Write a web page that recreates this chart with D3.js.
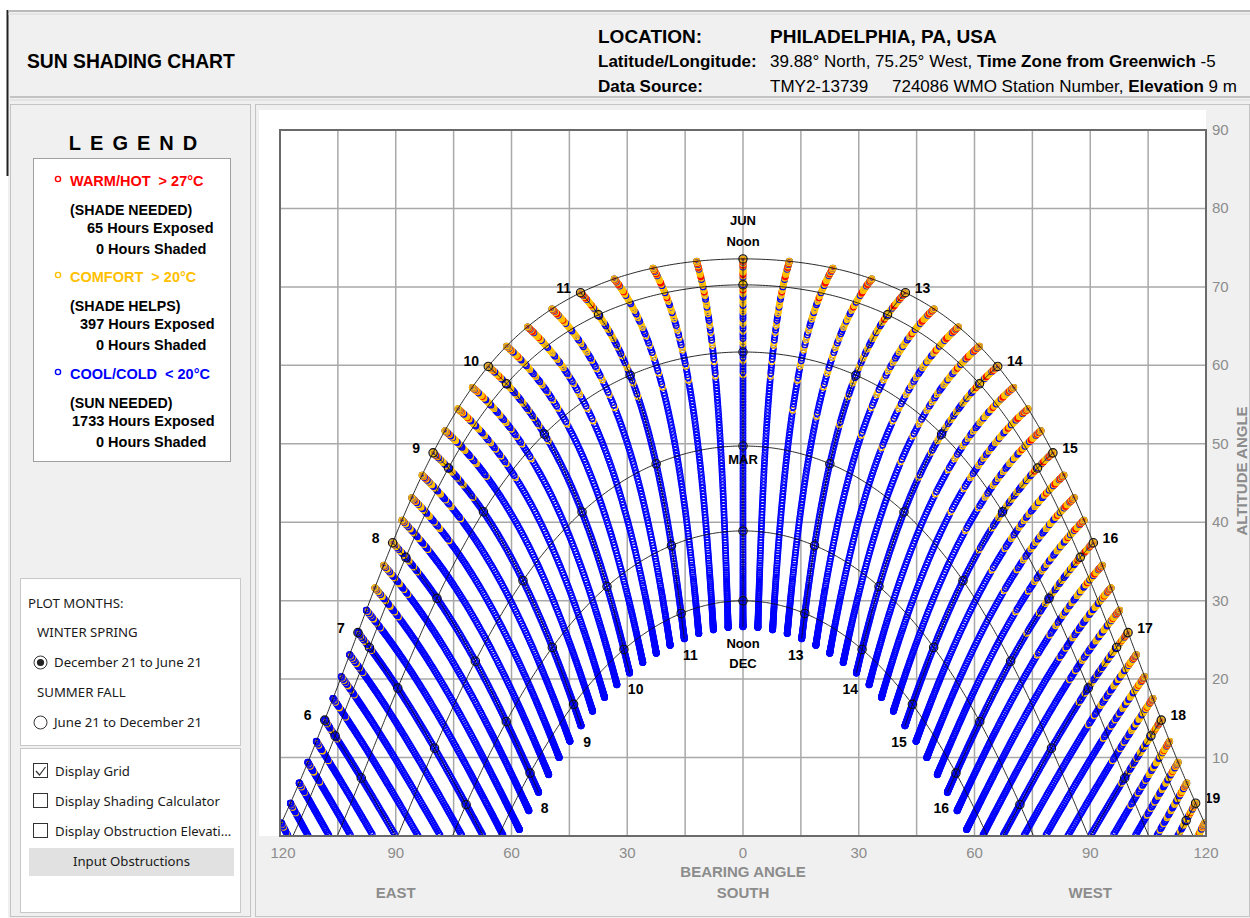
<!DOCTYPE html>
<html>
<head>
<meta charset="utf-8">
<script src="https://cdn.jsdelivr.net/npm/d3@7"></script>
<style>
  html, body { margin: 0; padding: 0; background: #ffffff; }
  svg { display: block; }
  text { white-space: pre; }
</style>
</head>
<body>
<svg id="chart" width="1250" height="918"></svg>
<script>
// ---------------- Site and chart data ----------------
const LATITUDE = 39.88;                       // degrees north
const xTicks = [-120, -90, -60, -30, 0, 30, 60, 90, 120];   // bearing (east negative)
const yTicks = [10, 20, 30, 40, 50, 60, 70, 80, 90];        // altitude
const xGridStep = 15;
const yGridStep = 10;

// month arcs, drawn on the 21st (day of year)
const arcMonths = ["JAN", "FEB", "MAR", "APR", "MAY", "JUN"];
const arcDayOfYear = [21, 52, 80, 111, 141, 172];
const DEC_SOLSTICE_DAY = 355;
const JUN_SOLSTICE_DAY = 172;

// hour lines and their labels
const hourLines = [6, 7, 8, 9, 10, 11, 12, 13, 14, 15, 16, 17, 18, 19];
const junLabelHours = [6, 7, 8, 9, 10, 11, 13, 14, 15, 16, 17, 18, 19];
const decLabelHours = [8, 9, 10, 11, 13, 14, 15, 16];

// plotted time slots (solar time, every quarter hour)
const firstSlot = 4.75, lastSlot = 19.25, slotStep = 0.25;

// daily high temperature, °C, December 21 through June 21
const highDec = [7, 5, 3, 4, 8, 9, 6, 2, 1, 4, 7];
const highJan = [6, 3, 0, -2, 1, 4, 8, 10, 5, 2, 3, 6, 9, 7, 2, -1, -3, 0, 3, 5, 4, 8, 11, 6, 3, 1, 4, 7, 5, 2, 6];
const highFeb = [8, 10, 4, 1, 3, 7, 9, 12, 6, 2, 5, 8, 11, 13, 9, 4, 3, 7, 10, 14, 11, 6, 8, 12, 15, 10, 7, 9];
const highMar = [11, 13, 8, 6, 10, 14, 16, 12, 9, 7, 12, 15, 17, 11, 8, 13, 16, 18, 14, 10, 12, 15, 19, 16, 11, 13, 17, 14, 12, 16, 18];
const highApr = [15, 13, 21, 17, 12, 14, 18, 20, 16, 13, 17, 19, 22, 18, 15, 14, 19, 23, 21, 16, 18, 20, 17, 22, 24, 19, 16, 21, 25, 20];
const highMay = [17, 21, 23, 19, 16, 20, 24, 26, 22, 18, 21, 25, 23, 20, 17, 22, 26, 28, 24, 21, 19, 23, 27, 25, 22, 20, 24, 28, 30, 26, 23];
const highJun = [24, 27, 22, 19, 25, 29, 31, 26, 23, 20, 26, 29, 32, 27, 24, 21, 26, 29, 27, 19, 26];
const dailyHigh = [].concat(highDec, highJan, highFeb, highMar, highApr, highMay, highJun);

// typical daily temperature swing, °C  (Dec, Jan, Feb, Mar, Apr, May, Jun)
const monthlyRange = [7, 8, 9, 10, 11, 9, 9];
// share of the daily swing reached at each clock hour, 5 h .. 19 h
const shapeStartHour = 5;
const diurnalShape = [0.04, 0.12, 0.3, 0.47, 0.61, 0.73, 0.83, 0.9, 0.95, 0.99, 1.0, 0.96, 0.88, 0.78, 0.67];

// comfort bands
const WARM_LIMIT = 27, COMFORT_LIMIT = 20;
const bandColor = { warm: "#ff0000", comfort: "#ffc000", cool: "#0000ff" };

// legend figures
const legendRows = [
  { key: "warm",    title: "WARM/HOT  > 27°C",   note: "(SHADE NEEDED)", exposed: 65 },
  { key: "comfort", title: "COMFORT  > 20°C",    note: "(SHADE HELPS)",  exposed: 397 },
  { key: "cool",    title: "COOL/COLD  < 20°C",  note: "(SUN NEEDED)",   exposed: 1733 }
];

// ---------------- Solar geometry ----------------
const RAD = Math.PI / 180;
const phi = LATITUDE * RAD;
function declination(n) { return 23.45 * Math.sin(RAD * 360 / 365 * (284 + n)); }
function sunPos(decl, hour) {
  const d = decl * RAD, H = (hour - 12) * 15 * RAD;
  const sinAlt = Math.sin(phi) * Math.sin(d) + Math.cos(phi) * Math.cos(d) * Math.cos(H);
  const alt = Math.asin(sinAlt) / RAD;
  const az = Math.atan2(Math.sin(H), Math.cos(H) * Math.sin(phi) - Math.tan(d) * Math.cos(phi)) / RAD;
  return { alt, az };
}
const dayOfYear = i => (DEC_SOLSTICE_DAY - 1 + i) % 365 + 1;

// ---------------- Layout ----------------
const svg = d3.select("#chart");
const FONT = "'Liberation Sans', Arial, sans-serif";
const UI_FONT = "'Noto Sans', 'DejaVu Sans', sans-serif";

function text(g, x, y, str, o = {}) {
  return g.append("text").attr("x", x).attr("y", y).text(str)
    .attr("font-family", o.family || FONT)
    .attr("font-size", o.size || 14)
    .attr("font-weight", o.weight || "normal")
    .attr("fill", o.fill || "#000")
    .attr("text-anchor", o.anchor || "start");
}
function hline(x1, x2, y, c, w = 1) {
  svg.append("line").attr("x1", x1).attr("x2", x2).attr("y1", y).attr("y2", y).attr("stroke", c).attr("stroke-width", w);
}
function vline(x, y1, y2, c, w = 1) {
  svg.append("line").attr("x1", x).attr("x2", x).attr("y1", y1).attr("y2", y2).attr("stroke", c).attr("stroke-width", w);
}

// window background
svg.append("rect").attr("x", 8).attr("y", 10).attr("width", 1242).attr("height", 908).attr("fill", "#f0f0f0");
vline(7.5, 10, 176, "#202020", 2);

// header frame
hline(8, 1250, 11, "#a8a8a8", 1.5);
hline(8, 1250, 14, "#d8d8d8", 1);
hline(10, 1250, 97, "#b4b4b4", 1.5);
hline(10, 1250, 100, "#d8d8d8", 1);

text(svg, 27, 68, "SUN SHADING CHART", { size: 19.3, weight: "bold" });

text(svg, 598, 43, "LOCATION:", { size: 19, weight: "bold" });
text(svg, 770, 43, "PHILADELPHIA, PA, USA", { size: 19, weight: "bold" });
text(svg, 598, 67, "Latitude/Longitude:", { size: 17, weight: "bold" });
{
  const t = text(svg, 770, 67, "", { size: 17 });
  t.append("tspan").text("39.88° North, 75.25° West, ");
  t.append("tspan").attr("font-weight", "bold").text("Time Zone from Greenwich");
  t.append("tspan").text(" -5");
}
text(svg, 598, 92, "Data Source:", { size: 17, weight: "bold" });
text(svg, 770, 92, "TMY2-13739", { size: 17 });
{
  const t = text(svg, 892, 92, "", { size: 17 });
  t.append("tspan").text("724086 WMO Station Number, ");
  t.append("tspan").attr("font-weight", "bold").text("Elevation");
  t.append("tspan").text(" 9 m");
}

// side panel frame
svg.append("rect").attr("x", 10.5).attr("y", 104.5).attr("width", 240).attr("height", 812)
  .attr("fill", "#f0f0f0").attr("stroke", "#c4c4c4");
// main panel frame
svg.append("rect").attr("x", 255.5).attr("y", 104.5).attr("width", 994).attr("height", 812)
  .attr("fill", "#f0f0f0").attr("stroke", "#c4c4c4");

// ---------------- Legend ----------------
text(svg, 133, 150, "LEGEND", { size: 20, weight: "bold", anchor: "middle" }).attr("letter-spacing", 9).attr("dx", 4.5);
svg.append("rect").attr("x", 33.5).attr("y", 158.5).attr("width", 197).attr("height", 303)
  .attr("fill", "#ffffff").attr("stroke", "#a0a0a0");

const legendTop = [186, 282, 379];
const exposedX = { 65: 87, 397: 80, 1733: 72 };
legendRows.forEach((r, i) => {
  const y0 = legendTop[i];
  svg.append("circle").attr("cx", 58).attr("cy", y0 - 7).attr("r", 2.6)
    .attr("fill", "none").attr("stroke", bandColor[r.key]).attr("stroke-width", 1.4);
  text(svg, 70, y0, r.title, { size: 14.5, weight: "bold", fill: bandColor[r.key] });
  text(svg, 70, y0 + 29, r.note, { size: 14.2, weight: "bold" });
  text(svg, exposedX[r.exposed], y0 + 47, r.exposed + " Hours Exposed", { size: 14.5, weight: "bold" });
  text(svg, 96, y0 + 68, "0 Hours Shaded", { size: 14.5, weight: "bold" });
});

// ---------------- Plot-month and display controls ----------------
svg.append("rect").attr("x", 20.5).attr("y", 578.5).attr("width", 220).attr("height", 167)
  .attr("fill", "#ffffff").attr("stroke", "#c8c8c8");
svg.append("rect").attr("x", 20.5).attr("y", 748.5).attr("width", 220).attr("height", 164)
  .attr("fill", "#ffffff").attr("stroke", "#c8c8c8");
const ui = { family: UI_FONT, size: 13.2, fill: "#1a1a1a" };
text(svg, 28, 608, "PLOT MONTHS:", ui);
text(svg, 37, 637, "WINTER SPRING", ui);
svg.append("circle").attr("cx", 40.5).attr("cy", 662.5).attr("r", 6.5).attr("fill", "#fff").attr("stroke", "#333");
svg.append("circle").attr("cx", 40.5).attr("cy", 662.5).attr("r", 3.6).attr("fill", "#222");
text(svg, 54, 667, "December 21 to June 21", ui);
text(svg, 37, 697, "SUMMER FALL", ui);
svg.append("circle").attr("cx", 40.5).attr("cy", 722.5).attr("r", 6.5).attr("fill", "#fff").attr("stroke", "#333");
text(svg, 54, 727, "June 21 to December 21", ui);

const checks = [
  { label: "Display Grid", on: true },
  { label: "Display Shading Calculator", on: false },
  { label: "Display Obstruction Elevati...", on: false }
];
checks.forEach((c, i) => {
  const cy = 771 + i * 30;
  svg.append("rect").attr("x", 33.5).attr("y", cy - 7.5).attr("width", 14).attr("height", 14)
    .attr("fill", "#fff").attr("stroke", "#333");
  if (c.on) {
    svg.append("path").attr("d", `M36,${cy} L39.5,${cy + 4} L45.5,${cy - 4}`)
      .attr("fill", "none").attr("stroke", "#333").attr("stroke-width", 1.2);
  }
  text(svg, 55, cy + 5, c.label, ui);
});
svg.append("rect").attr("x", 29).attr("y", 848).attr("width", 205).attr("height", 28).attr("fill", "#e1e1e1");
text(svg, 131.5, 866, "Input Obstructions", Object.assign({}, ui, { anchor: "middle" }));

// ---------------- Chart ----------------
const plot = { left: 280, right: 1206, top: 130, bottom: 836 };
const x = d3.scaleLinear().domain([-120, 120]).range([plot.left, plot.right]);
const y = d3.scaleLinear().domain([0, 90]).range([plot.bottom, plot.top]);

svg.append("rect").attr("x", 259).attr("y", 110).attr("width", plot.right - 259).attr("height", plot.bottom - 110)
  .attr("fill", "#ffffff");

svg.append("clipPath").attr("id", "plotClip").append("rect")
  .attr("x", plot.left).attr("y", plot.top)
  .attr("width", plot.right - plot.left).attr("height", plot.bottom - plot.top);

// grid
const grid = svg.append("g");
grid.selectAll("line.v").data(d3.range(-120 + xGridStep, 120, xGridStep)).join("line")
  .attr("x1", d => x(d)).attr("x2", d => x(d)).attr("y1", plot.top).attr("y2", plot.bottom)
  .attr("stroke", "#a9a9a9").attr("stroke-width", 1.5);
grid.selectAll("line.h").data(d3.range(yGridStep, 90, yGridStep)).join("line")
  .attr("x1", plot.left).attr("x2", plot.right).attr("y1", d => y(d)).attr("y2", d => y(d))
  .attr("stroke", "#a9a9a9").attr("stroke-width", 1.5);

// sun position samples, coloured by temperature band
const slots = d3.range(firstSlot, lastSlot + 1e-9, slotStep);
const dots = [];
slots.forEach(t => {
  dailyHigh.forEach((hi, i) => {
    const p = sunPos(declination(dayOfYear(i)), t);
    if (p.alt <= 0) return;
    const month = new Date(2001, 11, 21 + i).getMonth();
    const swing = monthlyRange[(month + 1) % 12];
    const share = diurnalShape[Math.round(t) - shapeStartHour];
    const temp = hi - swing * (1 - share);
    const band = temp > WARM_LIMIT ? "warm" : temp > COMFORT_LIMIT ? "comfort" : "cool";
    dots.push({ az: p.az, alt: p.alt, band });
  });
});

const dotLayer = svg.append("g").attr("clip-path", "url(#plotClip)");
dotLayer.selectAll("circle").data(dots).join("circle")
  .attr("cx", d => x(d.az)).attr("cy", d => y(d.alt)).attr("r", 2.8)
  .attr("fill", "none").attr("stroke", d => bandColor[d.band]).attr("stroke-width", 1.3);

// month arcs
const lineGen = d3.line().x(d => x(d.az)).y(d => y(d.alt)).defined(d => d.alt > -3);
const overlay = svg.append("g").attr("clip-path", "url(#plotClip)");
arcDayOfYear.forEach(n => {
  const dec = declination(n);
  const pts = d3.range(0, 24.001, 0.02).map(t => sunPos(dec, t));
  overlay.append("path").attr("d", lineGen(pts)).attr("fill", "none")
    .attr("stroke", "#111").attr("stroke-width", 0.9);
});

// hour lines, December to June
const dayIdx = d3.range(dailyHigh.length);
hourLines.forEach(h => {
  const pts = dayIdx.map(i => sunPos(declination(dayOfYear(i)), h));
  overlay.append("path").attr("d", lineGen(pts)).attr("fill", "none")
    .attr("stroke", "#111").attr("stroke-width", 0.9);
});

// hour / month crossings
hourLines.forEach(h => {
  arcDayOfYear.forEach(n => {
    const p = sunPos(declination(n), h);
    if (p.alt <= 0 || Math.abs(p.az) > 120) return;
    overlay.append("circle").attr("cx", x(p.az)).attr("cy", y(p.alt)).attr("r", 4.2)
      .attr("fill", "none").attr("stroke", "#111").attr("stroke-width", 1.1);
  });
});

// hour labels at the June and December ends
const decJun = declination(JUN_SOLSTICE_DAY), decDec = declination(DEC_SOLSTICE_DAY);
junLabelHours.forEach(h => {
  const p = sunPos(decJun, h);
  text(svg, x(p.az) + (h < 12 ? -17 : 17), y(p.alt), String(h), { size: 14, weight: "bold", anchor: "middle" });
});
decLabelHours.forEach(h => {
  const p = sunPos(decDec, h);
  text(svg, x(p.az) + (h < 12 ? 6 : -6), y(p.alt) + 21, String(h), { size: 14, weight: "bold", anchor: "middle" });
});
{
  const pj = sunPos(decJun, 12), pd = sunPos(decDec, 12), pm = sunPos(declination(arcDayOfYear[2]), 12);
  text(svg, x(0), y(pj.alt) - 34, "JUN", { size: 13, weight: "bold", anchor: "middle" });
  text(svg, x(0), y(pj.alt) - 13, "Noon", { size: 13, weight: "bold", anchor: "middle" });
  text(svg, x(0), y(pm.alt) + 18, "MAR", { size: 13, weight: "bold", anchor: "middle" });
  text(svg, x(0), y(pd.alt) + 21, "Noon", { size: 13, weight: "bold", anchor: "middle" });
  text(svg, x(0), y(pd.alt) + 41, "DEC", { size: 13, weight: "bold", anchor: "middle" });
}

// frame
svg.append("rect").attr("x", plot.left).attr("y", plot.top)
  .attr("width", plot.right - plot.left).attr("height", plot.bottom - plot.top)
  .attr("fill", "none").attr("stroke", "#6a6a6a").attr("stroke-width", 2);

// axes labels
const axisGray = "#8c8c8c";
xTicks.forEach(v => {
  text(svg, x(v) + (v === -120 ? 3 : 0), 858, String(Math.abs(v)), { size: 15, fill: axisGray, anchor: "middle" });
});
yTicks.forEach(v => {
  text(svg, plot.right + 6, y(v) + 5, String(v), { size: 15, fill: axisGray });
});
text(svg, x(0), 877, "BEARING ANGLE", { size: 15, weight: "bold", fill: axisGray, anchor: "middle" });
text(svg, x(0), 898, "SOUTH", { size: 15, weight: "bold", fill: axisGray, anchor: "middle" });
text(svg, x(-90), 898, "EAST", { size: 15, weight: "bold", fill: axisGray, anchor: "middle" });
text(svg, x(90), 898, "WEST", { size: 15, weight: "bold", fill: axisGray, anchor: "middle" });
text(svg, 0, 0, "ALTITUDE ANGLE", { size: 15, weight: "bold", fill: axisGray, anchor: "middle" })
  .attr("transform", "translate(1247,471) rotate(-90)");
</script>
</body>
</html>
